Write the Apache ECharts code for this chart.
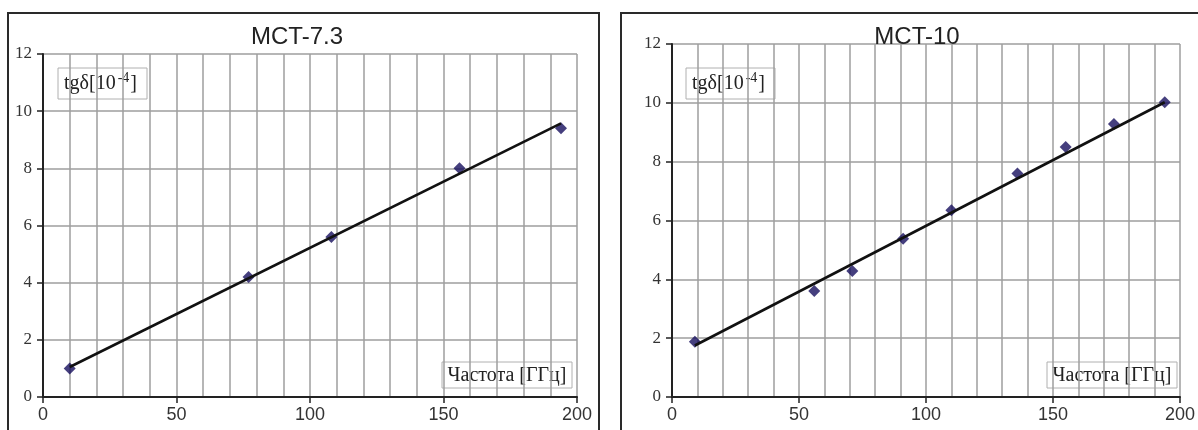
<!DOCTYPE html>
<html><head><meta charset="utf-8">
<script src="https://cdn.jsdelivr.net/npm/echarts@6/dist/echarts.min.js"></script>
<style>html,body{margin:0;padding:0;background:#fff}#c{width:1198px;height:430px}</style>
</head><body><div id="c"></div>
<script>
// ---- data ----
const titles = ['MCT-7.3', 'MCT-10'];
const yNameMain = 'tgδ[10';
const yNameSup = '-4';
const yNameEnd = ']';
const xName = 'Частота [ГГц]';
const xTicks = [0, 50, 100, 150, 200];
const yTicks = [0, 2, 4, 6, 8, 10, 12];
// MCT-7.3 measured points
const freqA = [10, 77, 108, 156, 194];
const tgA = [1.0, 4.2, 5.6, 8.0, 9.4];
// MCT-7.3 fitted line endpoints
const fitAx = [10, 194];
const fitAy = [1.05, 9.57];
// MCT-10 measured points
const freqB = [9, 56, 71, 91, 110, 136, 155, 174, 194];
const tgB = [1.88, 3.6, 4.28, 5.38, 6.35, 7.6, 8.5, 9.28, 10.02];
// MCT-10 fitted line endpoints
const fitBx = [9, 194];
const fitBy = [1.75, 10.02];

const zip = (a, b) => a.map((v, i) => [v, b[i]]);

const chart = echarts.init(document.getElementById('c'), null, {renderer: 'canvas'});

const mctx = document.createElement('canvas').getContext('2d');
function tw(text, font) { mctx.font = font; return mctx.measureText(text).width; }

const gridCol = '#9e9e9e';
function xAxisCfg(gi) {
  return {
    type: 'value', gridIndex: gi, min: xTicks[0], max: xTicks[xTicks.length - 1], interval: 50,
    axisLine: {show: true, onZero: false, lineStyle: {color: '#222', width: 2}},
    axisTick: {show: true, length: 6, lineStyle: {color: '#222', width: 1.5}},
    axisLabel: {margin: 9, fontFamily: 'Liberation Sans', fontSize: 18, color: '#333'},
    splitLine: {show: true, lineStyle: {color: gridCol, width: 1.5}},
    minorTick: {show: false, splitNumber: 5},
    minorSplitLine: {show: true, lineStyle: {color: gridCol, width: 1.5}}
  };
}
function yAxisCfg(gi) {
  return {
    type: 'value', gridIndex: gi, min: yTicks[0], max: yTicks[yTicks.length - 1], interval: 2,
    axisLine: {show: true, onZero: false, lineStyle: {color: '#222', width: 2}},
    axisTick: {show: true, length: 6, lineStyle: {color: '#222', width: 1.5}},
    axisLabel: {margin: 11, fontFamily: 'Liberation Serif', fontSize: 17, color: '#333'},
    splitLine: {show: true, lineStyle: {color: gridCol, width: 1.5}}
  };
}
const sym = {type: 'scatter', symbol: 'diamond', symbolSize: 12, itemStyle: {color: '#170f5e'}, z: 3};
const lin = {type: 'line', symbol: 'none', lineStyle: {color: '#111', width: 2.6}, z: 4, silent: true};

const boxStyle = {fill: '#fff', stroke: '#b0b0b0', lineWidth: 1};
const serif = 'Liberation Serif';
function yLabelBox(x, y) {
  const f1 = '20px "' + serif + '"';
  const f2 = '14px "' + serif + '"';
  const w1 = tw(yNameMain, f1);
  const ws = tw(yNameSup, f2);
  const x0 = 6, x1 = x0 + w1 + 2, x2 = x1 + ws + 1;
  const mid = 16;
  return {type: 'group', x: x, y: y, z: 10, children: [
    {type: 'rect', shape: {x: 0, y: 0, width: 89, height: 31}, style: boxStyle},
    {type: 'text', x: x0, y: mid, style: {text: yNameMain, fontFamily: serif, fontSize: 20, fill: '#222', verticalAlign: 'middle'}},
    {type: 'text', x: x1, y: mid - 6, style: {text: yNameSup, fontFamily: serif, fontSize: 14, fill: '#222', verticalAlign: 'middle'}},
    {type: 'text', x: x2, y: mid, style: {text: yNameEnd, fontFamily: serif, fontSize: 20, fill: '#222', verticalAlign: 'middle'}}
  ]};
}
function xLabelBox(x, y) {
  return {type: 'group', x: x, y: y, z: 10, children: [
    {type: 'rect', shape: {x: 0, y: 0, width: 130, height: 26}, style: boxStyle},
    {type: 'text', x: 65, y: 14, style: {text: xName, fontFamily: serif, fontSize: 20, fill: '#222', align: 'center', verticalAlign: 'middle'}}
  ]};
}

chart.setOption({
  animation: false,
  backgroundColor: '#fff',
  title: [
    {text: titles[0], left: 292, top: 20, textAlign: 'center', textStyle: {fontFamily: 'Liberation Sans', fontSize: 24, fontWeight: 'normal', color: '#222'}},
    {text: titles[1], left: 912, top: 20, textAlign: 'center', textStyle: {fontFamily: 'Liberation Sans', fontSize: 24, fontWeight: 'normal', color: '#222'}}
  ],
  grid: [
    {left: 43, right: 621, top: 54, bottom: 33, containLabel: false},
    {left: 672, right: 15, top: 44, bottom: 33, containLabel: false}
  ],
  xAxis: [xAxisCfg(0), xAxisCfg(1)],
  yAxis: [yAxisCfg(0), yAxisCfg(1)],
  series: [
    Object.assign({}, sym, {xAxisIndex: 0, yAxisIndex: 0, data: zip(freqA, tgA)}),
    Object.assign({}, lin, {xAxisIndex: 0, yAxisIndex: 0, data: zip(fitAx, fitAy)}),
    Object.assign({}, sym, {xAxisIndex: 1, yAxisIndex: 1, data: zip(freqB, tgB)}),
    Object.assign({}, lin, {xAxisIndex: 1, yAxisIndex: 1, data: zip(fitBx, fitBy)})
  ],
  graphic: [
    {type: 'rect', z: 0, silent: true, shape: {x: 8, y: 13, width: 591, height: 440}, style: {fill: 'none', stroke: '#2a2a2a', lineWidth: 2}},
    {type: 'rect', z: 0, silent: true, shape: {x: 621, y: 13, width: 600, height: 440}, style: {fill: 'none', stroke: '#2a2a2a', lineWidth: 2}},
    yLabelBox(58, 68),
    xLabelBox(442, 362),
    yLabelBox(686, 68),
    xLabelBox(1047, 362)
  ]
});
</script>
</body></html>
